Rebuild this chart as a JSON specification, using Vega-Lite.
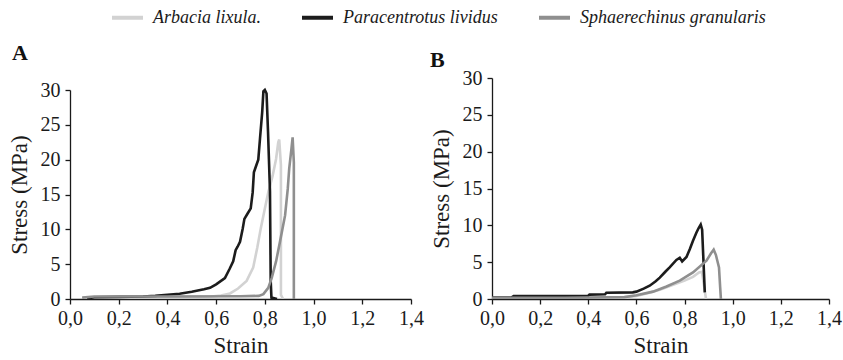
{
  "$schema": "https://vega.github.io/schema/vega-lite/v6.json",
  "padding": {"left": 8, "top": 0, "right": 5, "bottom": 2},
  "spacing": 6,
  "datasets": {
    "curves": [
      {"p": "A", "s": "Arbacia lixula.", "i": 1, "x": 0.05, "y": 0.1},
      {"p": "A", "s": "Arbacia lixula.", "i": 2, "x": 0.1, "y": 0.25},
      {"p": "A", "s": "Arbacia lixula.", "i": 3, "x": 0.3, "y": 0.3},
      {"p": "A", "s": "Arbacia lixula.", "i": 4, "x": 0.5, "y": 0.3},
      {"p": "A", "s": "Arbacia lixula.", "i": 5, "x": 0.58, "y": 0.35},
      {"p": "A", "s": "Arbacia lixula.", "i": 6, "x": 0.62, "y": 0.5},
      {"p": "A", "s": "Arbacia lixula.", "i": 7, "x": 0.657, "y": 0.8},
      {"p": "A", "s": "Arbacia lixula.", "i": 8, "x": 0.69, "y": 1.5},
      {"p": "A", "s": "Arbacia lixula.", "i": 9, "x": 0.725, "y": 2.6},
      {"p": "A", "s": "Arbacia lixula.", "i": 10, "x": 0.752, "y": 4.5},
      {"p": "A", "s": "Arbacia lixula.", "i": 11, "x": 0.769, "y": 7.4},
      {"p": "A", "s": "Arbacia lixula.", "i": 12, "x": 0.783, "y": 10.1},
      {"p": "A", "s": "Arbacia lixula.", "i": 13, "x": 0.8, "y": 13.0},
      {"p": "A", "s": "Arbacia lixula.", "i": 14, "x": 0.814, "y": 15.3},
      {"p": "A", "s": "Arbacia lixula.", "i": 15, "x": 0.832, "y": 17.7},
      {"p": "A", "s": "Arbacia lixula.", "i": 16, "x": 0.846, "y": 20.1},
      {"p": "A", "s": "Arbacia lixula.", "i": 17, "x": 0.855, "y": 22.5},
      {"p": "A", "s": "Arbacia lixula.", "i": 18, "x": 0.859, "y": 22.9},
      {"p": "A", "s": "Arbacia lixula.", "i": 19, "x": 0.866, "y": 19.2},
      {"p": "A", "s": "Arbacia lixula.", "i": 20, "x": 0.866, "y": 0.6},
      {"p": "A", "s": "Arbacia lixula.", "i": 21, "x": 0.875, "y": 0.0},
      {"p": "A", "s": "Paracentrotus lividus", "i": 1, "x": 0.07, "y": 0.1},
      {"p": "A", "s": "Paracentrotus lividus", "i": 2, "x": 0.1, "y": 0.25},
      {"p": "A", "s": "Paracentrotus lividus", "i": 3, "x": 0.2, "y": 0.3},
      {"p": "A", "s": "Paracentrotus lividus", "i": 4, "x": 0.3, "y": 0.35},
      {"p": "A", "s": "Paracentrotus lividus", "i": 5, "x": 0.35, "y": 0.45},
      {"p": "A", "s": "Paracentrotus lividus", "i": 6, "x": 0.4, "y": 0.6},
      {"p": "A", "s": "Paracentrotus lividus", "i": 7, "x": 0.45, "y": 0.75},
      {"p": "A", "s": "Paracentrotus lividus", "i": 8, "x": 0.5, "y": 1.05},
      {"p": "A", "s": "Paracentrotus lividus", "i": 9, "x": 0.55, "y": 1.4},
      {"p": "A", "s": "Paracentrotus lividus", "i": 10, "x": 0.575, "y": 1.6},
      {"p": "A", "s": "Paracentrotus lividus", "i": 11, "x": 0.6, "y": 2.1},
      {"p": "A", "s": "Paracentrotus lividus", "i": 12, "x": 0.636, "y": 3.0},
      {"p": "A", "s": "Paracentrotus lividus", "i": 13, "x": 0.655, "y": 4.3},
      {"p": "A", "s": "Paracentrotus lividus", "i": 14, "x": 0.67, "y": 5.4},
      {"p": "A", "s": "Paracentrotus lividus", "i": 15, "x": 0.68, "y": 7.0},
      {"p": "A", "s": "Paracentrotus lividus", "i": 16, "x": 0.688, "y": 7.5},
      {"p": "A", "s": "Paracentrotus lividus", "i": 17, "x": 0.698, "y": 8.2},
      {"p": "A", "s": "Paracentrotus lividus", "i": 18, "x": 0.709, "y": 10.1},
      {"p": "A", "s": "Paracentrotus lividus", "i": 19, "x": 0.716, "y": 11.5},
      {"p": "A", "s": "Paracentrotus lividus", "i": 20, "x": 0.728, "y": 12.2},
      {"p": "A", "s": "Paracentrotus lividus", "i": 21, "x": 0.742, "y": 13.0},
      {"p": "A", "s": "Paracentrotus lividus", "i": 22, "x": 0.75, "y": 15.3},
      {"p": "A", "s": "Paracentrotus lividus", "i": 23, "x": 0.755, "y": 18.2},
      {"p": "A", "s": "Paracentrotus lividus", "i": 24, "x": 0.765, "y": 19.2},
      {"p": "A", "s": "Paracentrotus lividus", "i": 25, "x": 0.773, "y": 20.0},
      {"p": "A", "s": "Paracentrotus lividus", "i": 26, "x": 0.78, "y": 23.0},
      {"p": "A", "s": "Paracentrotus lividus", "i": 27, "x": 0.789, "y": 26.8},
      {"p": "A", "s": "Paracentrotus lividus", "i": 28, "x": 0.794, "y": 29.8},
      {"p": "A", "s": "Paracentrotus lividus", "i": 29, "x": 0.8, "y": 30.0},
      {"p": "A", "s": "Paracentrotus lividus", "i": 30, "x": 0.807, "y": 29.5},
      {"p": "A", "s": "Paracentrotus lividus", "i": 31, "x": 0.813, "y": 24.0},
      {"p": "A", "s": "Paracentrotus lividus", "i": 32, "x": 0.821, "y": 15.5},
      {"p": "A", "s": "Paracentrotus lividus", "i": 33, "x": 0.824, "y": 2.6},
      {"p": "A", "s": "Paracentrotus lividus", "i": 34, "x": 0.827, "y": 0.2},
      {"p": "A", "s": "Paracentrotus lividus", "i": 35, "x": 0.85, "y": 0.0},
      {"p": "A", "s": "Sphaerechinus granularis", "i": 1, "x": 0.05, "y": 0.2},
      {"p": "A", "s": "Sphaerechinus granularis", "i": 2, "x": 0.1, "y": 0.35},
      {"p": "A", "s": "Sphaerechinus granularis", "i": 3, "x": 0.4, "y": 0.35},
      {"p": "A", "s": "Sphaerechinus granularis", "i": 4, "x": 0.7, "y": 0.4},
      {"p": "A", "s": "Sphaerechinus granularis", "i": 5, "x": 0.775, "y": 0.45},
      {"p": "A", "s": "Sphaerechinus granularis", "i": 6, "x": 0.794, "y": 0.7},
      {"p": "A", "s": "Sphaerechinus granularis", "i": 7, "x": 0.814, "y": 1.6},
      {"p": "A", "s": "Sphaerechinus granularis", "i": 8, "x": 0.828, "y": 3.0},
      {"p": "A", "s": "Sphaerechinus granularis", "i": 9, "x": 0.846, "y": 5.4},
      {"p": "A", "s": "Sphaerechinus granularis", "i": 10, "x": 0.862, "y": 8.2},
      {"p": "A", "s": "Sphaerechinus granularis", "i": 11, "x": 0.883, "y": 12.0},
      {"p": "A", "s": "Sphaerechinus granularis", "i": 12, "x": 0.894, "y": 15.8},
      {"p": "A", "s": "Sphaerechinus granularis", "i": 13, "x": 0.9, "y": 18.7},
      {"p": "A", "s": "Sphaerechinus granularis", "i": 14, "x": 0.909, "y": 21.5},
      {"p": "A", "s": "Sphaerechinus granularis", "i": 15, "x": 0.914, "y": 23.2},
      {"p": "A", "s": "Sphaerechinus granularis", "i": 16, "x": 0.919, "y": 19.6},
      {"p": "A", "s": "Sphaerechinus granularis", "i": 17, "x": 0.919, "y": 0.0},
      {"p": "B", "s": "Arbacia lixula.", "i": 1, "x": 0.0, "y": 0.1},
      {"p": "B", "s": "Arbacia lixula.", "i": 2, "x": 0.3, "y": 0.1},
      {"p": "B", "s": "Arbacia lixula.", "i": 3, "x": 0.55, "y": 0.2},
      {"p": "B", "s": "Arbacia lixula.", "i": 4, "x": 0.6, "y": 0.4},
      {"p": "B", "s": "Arbacia lixula.", "i": 5, "x": 0.65, "y": 0.8},
      {"p": "B", "s": "Arbacia lixula.", "i": 6, "x": 0.7, "y": 1.3},
      {"p": "B", "s": "Arbacia lixula.", "i": 7, "x": 0.75, "y": 1.9},
      {"p": "B", "s": "Arbacia lixula.", "i": 8, "x": 0.8, "y": 2.5},
      {"p": "B", "s": "Arbacia lixula.", "i": 9, "x": 0.835, "y": 3.0},
      {"p": "B", "s": "Arbacia lixula.", "i": 10, "x": 0.86, "y": 3.6},
      {"p": "B", "s": "Arbacia lixula.", "i": 11, "x": 0.872, "y": 3.7},
      {"p": "B", "s": "Arbacia lixula.", "i": 12, "x": 0.88, "y": 2.0},
      {"p": "B", "s": "Arbacia lixula.", "i": 13, "x": 0.889, "y": 0.0},
      {"p": "B", "s": "Paracentrotus lividus", "i": 1, "x": 0.0, "y": 0.2},
      {"p": "B", "s": "Paracentrotus lividus", "i": 2, "x": 0.08, "y": 0.2},
      {"p": "B", "s": "Paracentrotus lividus", "i": 3, "x": 0.09, "y": 0.4},
      {"p": "B", "s": "Paracentrotus lividus", "i": 4, "x": 0.4, "y": 0.45},
      {"p": "B", "s": "Paracentrotus lividus", "i": 5, "x": 0.405, "y": 0.6},
      {"p": "B", "s": "Paracentrotus lividus", "i": 6, "x": 0.47, "y": 0.65},
      {"p": "B", "s": "Paracentrotus lividus", "i": 7, "x": 0.475, "y": 0.85},
      {"p": "B", "s": "Paracentrotus lividus", "i": 8, "x": 0.585, "y": 0.9},
      {"p": "B", "s": "Paracentrotus lividus", "i": 9, "x": 0.6, "y": 1.0},
      {"p": "B", "s": "Paracentrotus lividus", "i": 10, "x": 0.63, "y": 1.4},
      {"p": "B", "s": "Paracentrotus lividus", "i": 11, "x": 0.655, "y": 1.8},
      {"p": "B", "s": "Paracentrotus lividus", "i": 12, "x": 0.68, "y": 2.4},
      {"p": "B", "s": "Paracentrotus lividus", "i": 13, "x": 0.697, "y": 2.9},
      {"p": "B", "s": "Paracentrotus lividus", "i": 14, "x": 0.72, "y": 3.7},
      {"p": "B", "s": "Paracentrotus lividus", "i": 15, "x": 0.738, "y": 4.3},
      {"p": "B", "s": "Paracentrotus lividus", "i": 16, "x": 0.766, "y": 5.3},
      {"p": "B", "s": "Paracentrotus lividus", "i": 17, "x": 0.78, "y": 5.6},
      {"p": "B", "s": "Paracentrotus lividus", "i": 18, "x": 0.79, "y": 5.1},
      {"p": "B", "s": "Paracentrotus lividus", "i": 19, "x": 0.808, "y": 5.7},
      {"p": "B", "s": "Paracentrotus lividus", "i": 20, "x": 0.822, "y": 6.8},
      {"p": "B", "s": "Paracentrotus lividus", "i": 21, "x": 0.835, "y": 7.9},
      {"p": "B", "s": "Paracentrotus lividus", "i": 22, "x": 0.849, "y": 9.0},
      {"p": "B", "s": "Paracentrotus lividus", "i": 23, "x": 0.858, "y": 9.6},
      {"p": "B", "s": "Paracentrotus lividus", "i": 24, "x": 0.867, "y": 10.1},
      {"p": "B", "s": "Paracentrotus lividus", "i": 25, "x": 0.873, "y": 9.4},
      {"p": "B", "s": "Paracentrotus lividus", "i": 26, "x": 0.884, "y": 0.9},
      {"p": "B", "s": "Sphaerechinus granularis", "i": 1, "x": 0.0, "y": 0.15},
      {"p": "B", "s": "Sphaerechinus granularis", "i": 2, "x": 0.3, "y": 0.15},
      {"p": "B", "s": "Sphaerechinus granularis", "i": 3, "x": 0.55, "y": 0.25},
      {"p": "B", "s": "Sphaerechinus granularis", "i": 4, "x": 0.6, "y": 0.5},
      {"p": "B", "s": "Sphaerechinus granularis", "i": 5, "x": 0.669, "y": 1.0},
      {"p": "B", "s": "Sphaerechinus granularis", "i": 6, "x": 0.725, "y": 1.7},
      {"p": "B", "s": "Sphaerechinus granularis", "i": 7, "x": 0.78, "y": 2.5},
      {"p": "B", "s": "Sphaerechinus granularis", "i": 8, "x": 0.835, "y": 3.6},
      {"p": "B", "s": "Sphaerechinus granularis", "i": 9, "x": 0.891, "y": 5.2},
      {"p": "B", "s": "Sphaerechinus granularis", "i": 10, "x": 0.91, "y": 6.2},
      {"p": "B", "s": "Sphaerechinus granularis", "i": 11, "x": 0.921, "y": 6.7},
      {"p": "B", "s": "Sphaerechinus granularis", "i": 12, "x": 0.93, "y": 6.0},
      {"p": "B", "s": "Sphaerechinus granularis", "i": 13, "x": 0.943, "y": 4.3},
      {"p": "B", "s": "Sphaerechinus granularis", "i": 14, "x": 0.948, "y": 1.5},
      {"p": "B", "s": "Sphaerechinus granularis", "i": 15, "x": 0.951, "y": 0.0}
    ]
  },
  "data": {"name": "curves"},
  "hconcat": [
    {
      "width": 341,
      "height": 221,
      "title": {"text": "A", "anchor": "start", "frame": "bounds", "offset": 13, "dx": 4},
      "transform": [{"filter": "datum.p == 'A'"}],
      "mark": {"type": "line", "strokeWidth": 2.6, "clip": true},
      "encoding": {
        "x": {"field": "x", "type": "quantitative", "title": "Strain",
              "scale": {"domain": [0, 1.4], "nice": false},
              "axis": {"values": [0, 0.2, 0.4, 0.6, 0.8, 1.0, 1.2, 1.4], "labelExpr": "replace(format(datum.value, '.1f'), '.', ',')"}},
        "y": {"field": "y", "type": "quantitative", "title": "Stress (MPa)",
              "scale": {"domain": [0, 30], "nice": false, "range": [221, 12]},
              "axis": {"values": [0, 5, 10, 15, 20, 25, 30]}},
        "color": {"field": "s", "type": "nominal"},
        "order": {"field": "i", "type": "quantitative"}
      }
    },
    {
      "width": 337,
      "height": 221,
      "title": {"text": "B", "anchor": "start", "frame": "bounds", "offset": -4},
      "transform": [{"filter": "datum.p == 'B'"}],
      "mark": {"type": "line", "strokeWidth": 2.6, "clip": true},
      "encoding": {
        "x": {"field": "x", "type": "quantitative", "title": "Strain",
              "scale": {"domain": [0, 1.4], "nice": false},
              "axis": {"values": [0, 0.2, 0.4, 0.6, 0.8, 1.0, 1.2, 1.4], "labelExpr": "replace(format(datum.value, '.1f'), '.', ',')"}},
        "y": {"field": "y", "type": "quantitative", "title": "Stress (MPa)",
              "scale": {"domain": [0, 30], "nice": false},
              "axis": {"values": [0, 5, 10, 15, 20, 25, 30]}},
        "color": {"field": "s", "type": "nominal"},
        "order": {"field": "i", "type": "quantitative"}
      }
    }
  ],
  "resolve": {"scale": {"color": "shared"}},
  "config": {
    "font": "Liberation Serif",
    "view": {"stroke": null},
    "range": {"category": ["#d2d2d2", "#1c1c1c", "#8f8f8f"]},
    "axis": {
      "grid": false, "domainColor": "#1a1a1a", "tickColor": "#1a1a1a",
      "labelColor": "#1a1a1a", "titleColor": "#1a1a1a",
      "labelFont": "Liberation Serif", "titleFont": "Liberation Serif",
      "labelFontSize": 20, "titleFontSize": 23, "titleFontWeight": "normal",
      "tickSize": 5, "domainWidth": 1.3, "tickWidth": 1.3,
      "labelFlush": false, "titlePadding": 8
    },
    "axisX": {"labelPadding": 4, "titlePadding": 6},
    "axisY": {"labelPadding": 5, "titlePadding": 9},
    "legend": {
      "orient": "none", "legendX": 40, "legendY": -78,
      "direction": "horizontal", "title": null,
      "symbolType": "stroke", "symbolSize": 961, "symbolStrokeWidth": 4,
      "labelFont": "Liberation Serif", "labelFontStyle": "italic",
      "labelFontSize": 18, "labelColor": "#1a1a1a", "labelOffset": 8,
      "columnPadding": 33, "labelLimit": 0
    },
    "title": {"font": "Liberation Serif", "fontSize": 22, "fontWeight": "bold", "color": "#111111", "baseline": "alphabetic"}
  }
}
